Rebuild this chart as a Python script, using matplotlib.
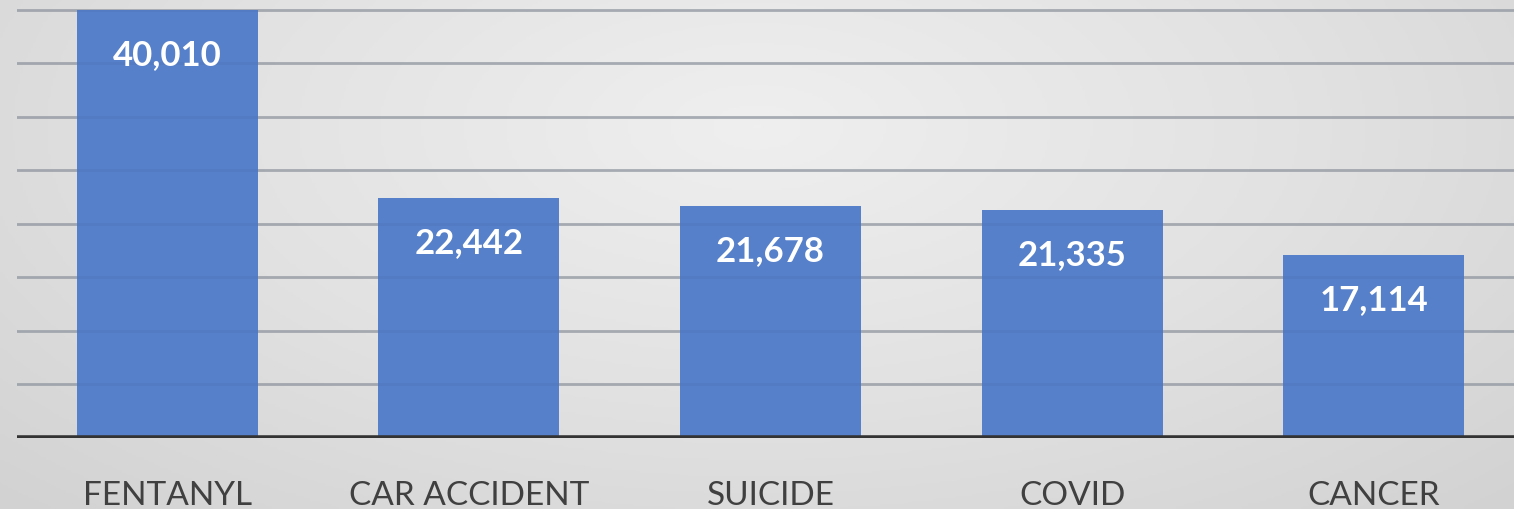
import numpy as np
import matplotlib.pyplot as plt
from matplotlib.colors import LinearSegmentedColormap

categories = ["FENTANYL", "CAR ACCIDENT", "SUICIDE", "COVID", "CANCER"]
deaths = [40010, 22442, 21678, 21335, 17114]
grid_values = [5000, 10000, 15000, 20000, 25000, 30000, 35000, 40000]

W, H = 1514, 510
fig = plt.figure(figsize=(W / 100, H / 100), dpi=100)

# soft grey radial background
bg = fig.add_axes([0, 0, 1, 1], zorder=-10)
yy, xx = np.mgrid[0:1:200j, 0:1:600j]
r = np.sqrt(((xx - 0.5) / 0.75) ** 2 + ((yy - 0.25) / 1.1) ** 2)
cmap = LinearSegmentedColormap.from_list("bg", ["#efefef", "#e2e2e2", "#d2d2d2"])
bg.imshow(r, cmap=cmap, aspect="auto", extent=[0, 1, 0, 1], origin="upper")
bg.axis("off")

# x axis runs past the right edge of the picture (cropped)
left = 16.5 / W
width = 1508 / W
ax = fig.add_axes([left, 71 / H, width, 439 / H])
ax.patch.set_alpha(0)

x = np.arange(len(categories))
bars = ax.bar(x, deaths, width=0.6, color="#5680c9", zorder=2)

for g in grid_values:
    ax.axhline(g, color="#a0a0a0", lw=2, alpha=0.7, zorder=1)
    ax.axhline(g, color="#3a5a9a", lw=2, alpha=0.12, zorder=3)
ax.axhline(0, color="#333333", lw=4, zorder=4)

for bar, v in zip(bars, deaths):
    ax.annotate(
        f"{v:,}",
        (bar.get_x() + bar.get_width() / 2, v),
        xytext=(0, -32),
        textcoords="offset points",
        ha="center",
        va="center",
        color="white",
        fontsize=25,
        fontweight="bold",
        family="Lato",
        zorder=5,
    )

ax.set_xlim(-0.5, 4.5)
ax.set_ylim(0, 41000)
ax.set_xticks(x)
ax.set_xticklabels(categories, fontsize=24, color="#404040", family="Lato")
ax.tick_params(axis="x", length=0, pad=30)
ax.set_yticks([])
for s in ax.spines.values():
    s.set_visible(False)

fig.savefig("out.png", dpi=100)
